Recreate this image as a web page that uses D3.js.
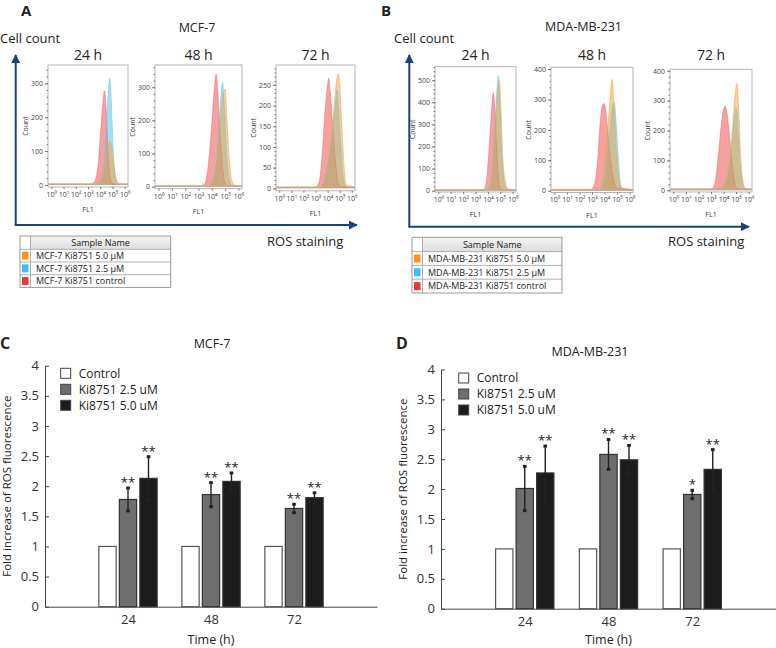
<!DOCTYPE html>
<meta charset='utf-8'>
<style>
body { margin: 0; background: #fff; }
svg text { font-family: 'Open Sans', 'Noto Sans', sans-serif; fill: #222; }
.hist .tick text { font-size: 7px; fill: #444; }
.hist .tick line { stroke: #777; }
.hist .lab { font-size: 7px; fill: #333; }
.bars .tick text { font-size: 13px; fill: #333; }
.bars .domain, .bars .tick line { stroke: #444; }
</style>
<script src='https://cdnjs.cloudflare.com/ajax/libs/d3/7.8.5/d3.min.js'></script>
<script>
'use strict'

// Flow cytometry histograms: [log10(FL1), count]
// MCF-7
let mcf24Ctrl = [[-0.3,2],[3.2,2],[3.5,8],[3.8,50],[4.0,140],[4.2,235],[4.35,278],[4.5,215],[4.65,90],[4.8,25],[5.0,5],[5.3,2],[6.3,2]],
	mcf24Low = [[-0.3,2],[3.8,2],[4.05,15],[4.3,60],[4.5,170],[4.65,270],[4.78,315],[4.9,250],[5.05,110],[5.2,35],[5.4,6],[5.6,2],[6.3,2]],
	mcf24High = [[-0.3,4],[3.7,4],[4.0,14],[4.3,40],[4.55,95],[4.78,128],[4.95,112],[5.1,65],[5.3,18],[5.5,5],[6.3,4]],
	mcf48Ctrl = [[-0.3,2],[3.2,2],[3.5,12],[3.75,70],[4.0,190],[4.2,300],[4.32,340],[4.45,290],[4.6,170],[4.8,60],[5.0,12],[5.2,3],[6.3,2]],
	mcf48Low = [[-0.3,2],[3.8,2],[4.1,20],[4.35,80],[4.55,200],[4.72,290],[4.82,314],[4.95,240],[5.1,110],[5.3,25],[5.5,4],[6.3,2]],
	mcf48High = [[-0.3,4],[3.8,4],[4.1,18],[4.4,80],[4.65,200],[4.85,280],[5.0,294],[5.12,220],[5.3,90],[5.5,20],[5.7,5],[6.3,4]],
	mcf72Ctrl = [[-0.3,2],[3.0,2],[3.3,15],[3.55,80],[3.8,190],[4.0,250],[4.09,266],[4.2,240],[4.4,160],[4.6,80],[4.8,25],[5.0,5],[6.3,2]],
	mcf72Low = [[-0.3,2],[3.4,2],[3.6,10],[3.9,40],[4.2,90],[4.5,160],[4.7,220],[4.78,238],[4.9,200],[5.1,100],[5.3,25],[5.5,4],[6.3,2]],
	mcf72High = [[-0.3,4],[3.4,4],[3.7,15],[4.0,50],[4.3,120],[4.55,200],[4.75,260],[4.89,277],[5.0,250],[5.2,140],[5.4,40],[5.55,8],[6.3,4]]
// MDA-MB-231
let mda24Ctrl = [[-0.3,3],[3.6,3],[3.85,30],[4.05,150],[4.25,320],[4.44,443],[4.55,380],[4.7,200],[4.85,60],[5.0,15],[5.2,3],[6.3,3]],
	mda24Low = [[-0.3,3],[4.0,3],[4.25,40],[4.5,230],[4.7,430],[4.84,519],[4.95,420],[5.1,200],[5.3,50],[5.5,8],[6.3,3]],
	mda24High = [[-0.3,5],[4.0,5],[4.3,40],[4.55,220],[4.75,420],[4.92,498],[5.05,380],[5.2,160],[5.4,40],[5.6,8],[6.3,5]],
	mda48Ctrl = [[-0.3,3],[2.9,3],[3.2,20],[3.45,100],[3.65,220],[3.85,283],[3.97,287],[4.08,270],[4.25,200],[4.45,110],[4.7,40],[4.95,8],[6.3,3]],
	mda48Low = [[-0.3,3],[3.7,3],[3.95,25],[4.2,100],[4.45,210],[4.65,280],[4.76,293],[4.9,240],[5.05,140],[5.2,50],[5.4,8],[6.3,3]],
	mda48High = [[-0.3,5],[3.6,5],[3.9,40],[4.15,150],[4.4,280],[4.6,366],[4.75,280],[4.95,130],[5.15,40],[5.35,8],[6.3,5]],
	mda72Ctrl = [[-0.3,3],[3.0,3],[3.3,20],[3.55,100],[3.8,210],[4.0,270],[4.14,282],[4.3,250],[4.5,170],[4.7,80],[4.9,25],[5.1,5],[6.3,3]],
	mda72Low = [[-0.3,3],[3.8,3],[4.1,20],[4.4,70],[4.65,150],[4.85,240],[5.02,274],[5.15,210],[5.3,100],[5.5,25],[5.7,5],[6.3,3]],
	mda72High = [[-0.3,5],[3.8,5],[4.1,20],[4.4,70],[4.65,170],[4.88,300],[5.07,358],[5.2,280],[5.35,130],[5.55,30],[5.75,6],[6.3,5]]

let flTicks = [1, 10, 100, 1e3, 1e4, 1e5, 1e6]
let mcfSamples = ['MCF-7 Ki8751 5.0 µM', 'MCF-7 Ki8751 2.5 µM', 'MCF-7 Ki8751 control'],
	mdaSamples = ['MDA-MB-231 Ki8751 5.0 µM', 'MDA-MB-231 Ki8751 2.5 µM', 'MDA-MB-231 Ki8751 control'],
	sampleColors = ['#f7941e', '#3cbff0', '#e8383a']

// Bar charts: fold increase of ROS fluorescence
let times = ['24', '48', '72'],
	treatments = ['Control', 'Ki8751 2.5 uM', 'Ki8751 5.0 uM'],
	mcfMeans = [[1, 1.78, 2.13], [1, 1.86, 2.08], [1, 1.63, 1.81]],
	mcfErrs = [[0, 0.19, 0.36], [0, 0.2, 0.14], [0, 0.07, 0.08]],
	mcfStars = [['', '**', '**'], ['', '**', '**'], ['', '**', '**']],
	mdaMeans = [[1, 2.01, 2.27], [1, 2.58, 2.49], [1, 1.91, 2.33]],
	mdaErrs = [[0, 0.37, 0.45], [0, 0.25, 0.24], [0, 0.07, 0.33]],
	mdaStars = [['', '**', '**'], ['', '**', '**'], ['', '*', '**']]

window.onload = () => {

let W = 776, H = 648
let svg = d3.select('body').append('svg').attr('width', W).attr('height', H)
let defs = svg.append('defs')
defs.append('marker').attr('id', 'arr')
	.attr('viewBox', '0 0 10 10').attr('refX', 9).attr('refY', 5)
	.attr('markerWidth', 4.5).attr('markerHeight', 4.5).attr('orient', 'auto')
	.append('path').attr('d', 'M0,0L10,5L0,10z').attr('fill', '#1d4178')
let hdrGrad = defs.append('linearGradient').attr('id', 'hdr').attr('x1', 0).attr('x2', 0).attr('y1', 0).attr('y2', 1)
hdrGrad.append('stop').attr('offset', 0).attr('stop-color', '#f4f4f4')
hdrGrad.append('stop').attr('offset', 1).attr('stop-color', '#dedede')

let txt = (x, y, s, size, opts = {}) => svg.append('text')
	.attr('x', x).attr('y', y).attr('font-size', size)
	.attr('text-anchor', opts.anchor || 'start')
	.attr('font-weight', opts.bold ? 'bold' : null)
	.text(s)

// ---- histogram panels (A, B)
let histFill = ['#ef5252', '#45bff0', '#f5a032'],
	histOpacity = [0.55, 0.5, 0.5],
	histLine = ['#ee7070', '#6cc8ee', '#f2a848']

let histPanels = [
	{title: '24 h', box: [48, 65, 128, 187], ymax: 354, ytop: 300, step: 100, curves: [mcf24Ctrl, mcf24Low, mcf24High]},
	{title: '48 h', box: [155, 65, 242, 188.7], ymax: 367, ytop: 300, step: 100, curves: [mcf48Ctrl, mcf48Low, mcf48High]},
	{title: '72 h', box: [276, 65, 355, 190.8], ymax: 298, ytop: 250, step: 50, curves: [mcf72Ctrl, mcf72Low, mcf72High]},
	{title: '24 h', box: [435, 66.7, 516, 192], ymax: 561, ytop: 500, step: 100, curves: [mda24Ctrl, mda24Low, mda24High]},
	{title: '48 h', box: [551, 67.3, 633, 192.5], ymax: 406, ytop: 400, step: 100, curves: [mda48Ctrl, mda48Low, mda48High]},
	{title: '72 h', box: [670, 69.3, 752, 192], ymax: 405, ytop: 400, step: 100, curves: [mda72Ctrl, mda72Low, mda72High]},
]

let sup = '⁰¹²³⁴⁵⁶'
histPanels.forEach((p, pi) => {
	let [l, t, r, b] = p.box,
		x = d3.scaleLog([10 ** -0.27, 10 ** 6.27], [l, r]),
		y = d3.scaleLinear([-6, p.ymax], [b, t]),
		g = svg.append('g').attr('class', 'hist')
	defs.append('clipPath').attr('id', `clip${pi}`)
		.append('rect').attr('x', l).attr('y', t).attr('width', r - l).attr('height', b - t)
	let area = d3.area().curve(d3.curveMonotoneX)
			.x(d => x(10 ** d[0])).y0(y(0)).y1(d => y(d[1])),
		line = area.lineY1()
	let plot = g.append('g').attr('clip-path', `url(#clip${pi})`)
	p.curves.forEach((c, i) => plot.append('path').datum(c).attr('d', area)
		.attr('fill', histFill[i]).attr('fill-opacity', histOpacity[i]))
	p.curves.forEach((c, i) => plot.append('path').datum(c).attr('d', line)
		.attr('fill', 'none').attr('stroke', histLine[i]).attr('stroke-width', 0.8).attr('stroke-opacity', 0.7))
	g.append('rect').attr('x', l).attr('y', t).attr('width', r - l).attr('height', b - t)
		.attr('fill', 'none').attr('stroke', '#b4b4b4')
	// minor ticks
	g.append('g').attr('transform', `translate(${l},0)`)
		.call(d3.axisLeft(y).tickValues(d3.range(0, p.ymax, p.step / 5)).tickSize(1.5).tickFormat(''))
		.call(s => s.select('.domain').remove())
		.call(s => s.selectAll('line').attr('stroke', '#aaa'))
	g.append('g').attr('transform', `translate(${l},0)`)
		.call(d3.axisLeft(y).tickValues(d3.range(0, p.ytop + 1, p.step)).tickSize(3).tickPadding(2))
		.call(s => s.select('.domain').remove())
	g.append('g').attr('transform', `translate(0,${b})`)
		.call(d3.axisBottom(x).tickValues(flTicks).tickSize(2).tickPadding(3)
			.tickFormat(d => '10' + sup[Math.round(Math.log10(d))]))
		.call(s => s.select('.domain').remove())
	g.append('text').attr('class', 'lab').attr('text-anchor', 'middle')
		.attr('transform', `translate(${l - 20},${(t + b) / 2}) rotate(-90)`).text('Count')
	g.append('text').attr('class', 'lab').attr('text-anchor', 'middle')
		.attr('x', (l + r) / 2).attr('y', b + 25).text('FL1')
	txt((l + r) / 2, 59.5, p.title, 14, {anchor: 'middle'})
})

// axes arrows and headings
let arrows = (x0, y0, x1, yTop) => {
	svg.append('path').attr('d', `M${x0},${y0}V${yTop}`).attr('stroke', '#1d4178').attr('stroke-width', 2).attr('marker-end', 'url(#arr)')
	svg.append('path').attr('d', `M${x0 - 1},${y0}H${x1}`).attr('stroke', '#1d4178').attr('stroke-width', 2).attr('marker-end', 'url(#arr)')
}
arrows(15.7, 225, 357, 55)
arrows(409.3, 226.7, 749, 55)

txt(21, 15.5, 'A', 15, {bold: true})
txt(381, 15.5, 'B', 15, {bold: true})
txt(197, 32, 'MCF-7', 12.5, {anchor: 'middle'})
txt(583.5, 31, 'MDA-MB-231', 12.5, {anchor: 'middle'})
txt(0, 43, 'Cell count', 13)
txt(394, 43, 'Cell count', 13)
txt(267, 245.5, 'ROS staining', 13)
txt(668, 245.5, 'ROS staining', 13)

// sample-name tables
let sampleTable = (x, y, w, hh, rh, names) => {
	let g = svg.append('g'), n = names.length, h = hh + n * rh
	g.append('rect').attr('x', x + 10.5).attr('y', y).attr('width', w - 10.5).attr('height', hh).attr('fill', 'url(#hdr)')
	g.append('text').attr('x', x + 10.5 + (w - 10.5) / 2).attr('y', y + hh / 2 + 3.2).attr('text-anchor', 'middle')
		.attr('font-size', 9).text('Sample Name')
	names.forEach((s, i) => {
		let ry = y + hh + i * rh
		g.append('rect').attr('x', x + 2).attr('y', ry + (rh - 8) / 2).attr('width', 6.5).attr('height', 8).attr('fill', sampleColors[i])
		g.append('text').attr('x', x + 16).attr('y', ry + rh / 2 + 3.2).attr('font-size', 9).text(s)
		g.append('line').attr('x1', x).attr('x2', x + w).attr('y1', ry).attr('y2', ry).attr('stroke', '#b0b0b0')
	})
	g.append('line').attr('x1', x + 10.5).attr('x2', x + 10.5).attr('y1', y).attr('y2', y + h).attr('stroke', '#b0b0b0')
	g.append('rect').attr('x', x).attr('y', y).attr('width', w).attr('height', h).attr('fill', 'none').attr('stroke', '#999')
}
sampleTable(20, 236, 150.7, 13.3, 12.7, mcfSamples)
sampleTable(412, 237.3, 150, 14.3, 13.8, mdaSamples)

// ---- bar panels (C, D)
let barFill = ['#fff', '#6e6e6e', '#1c1c1c']
let barPanel = (p) => {
	let y = d3.scaleLinear([0, 4], [p.y0, p.y4]),
		x = d3.scalePoint(times, [p.x0, p.x1]).padding(1),
		xi = d3.scaleBand(treatments, [-29.15, 29.15]).paddingInner(0.156),
		g = svg.append('g').attr('class', 'bars')
	g.append('g').attr('transform', `translate(${p.x0},0)`)
		.call(d3.axisLeft(y).tickValues(d3.range(0, 4.01, 0.5)).tickFormat(d => d)
			.tickSizeInner(-4).tickSizeOuter(0).tickPadding(6))
	g.append('g').attr('transform', `translate(0,${p.y0})`)
		.call(d3.axisBottom(x).tickSize(0).tickPadding(8))
	let grp = g.selectAll('.grp').data(times).join('g').attr('class', 'grp')
		.attr('transform', t => `translate(${x(t)},0)`)
	grp.each(function(t, ti) {
		let s = d3.select(this)
		treatments.forEach((tr, i) => {
			let m = p.means[ti][i], e = p.errs[ti][i], cx = xi(tr) + xi.bandwidth() / 2
			s.append('rect').attr('x', xi(tr)).attr('y', y(m)).attr('width', xi.bandwidth())
				.attr('height', y(0) - y(m)).attr('fill', barFill[i]).attr('stroke', i ? '#333' : '#555').attr('stroke-width', 1.2)
			if (e > 0) {
				s.append('line').attr('x1', cx).attr('x2', cx).attr('y1', y(m - e)).attr('y2', y(m + e))
					.attr('stroke', '#222').attr('stroke-width', 1.4)
				;[m - e, m + e].forEach(v => s.append('rect').attr('x', cx - 1.8).attr('y', y(v) - 1.5)
					.attr('width', 3.6).attr('height', 3).attr('fill', '#222'))
			}
			if (p.stars[ti][i]) s.append('text').attr('x', cx).attr('y', y(m + e) - 1)
				.attr('text-anchor', 'middle').attr('font-size', 13).attr('fill', '#333').text(p.stars[ti][i])
		})
	})
	// legend
	treatments.forEach((tr, i) => {
		let ly = p.leg[1] + i * 16
		g.append('rect').attr('x', p.leg[0]).attr('y', ly - 5).attr('width', 10).attr('height', 10)
			.attr('fill', barFill[i]).attr('stroke', '#444')
		g.append('text').attr('x', p.leg[0] + 18).attr('y', ly + 4.3).attr('font-size', 12).text(tr)
	})
	g.append('text').attr('text-anchor', 'middle').attr('font-size', 11.5)
		.attr('transform', `translate(${p.ylab},${(p.y0 + p.y4) / 2}) rotate(-90)`)
		.text('Fold increase of ROS fluorescence')
	g.append('text').attr('text-anchor', 'middle').attr('font-size', 12.5)
		.attr('x', x('48')).attr('y', 644).text('Time (h)')
	txt(p.title[0], p.title[1], p.name, 12.5, {anchor: 'middle'})
}

barPanel({x0: 45, x1: 377, y0: 606.7, y4: 365.7, means: mcfMeans, errs: mcfErrs, stars: mcfStars,
	leg: [60.7, 373.3], ylab: 11, title: [212, 347.5], name: 'MCF-7'})
barPanel({x0: 441, x1: 776, y0: 608.7, y4: 369.5, means: mdaMeans, errs: mdaErrs, stars: mdaStars,
	leg: [458.7, 378], ylab: 407, title: [590, 356], name: 'MDA-MB-231'})
txt(0, 349, 'C', 16, {bold: true})
txt(396, 349, 'D', 16, {bold: true})

}
</script>
